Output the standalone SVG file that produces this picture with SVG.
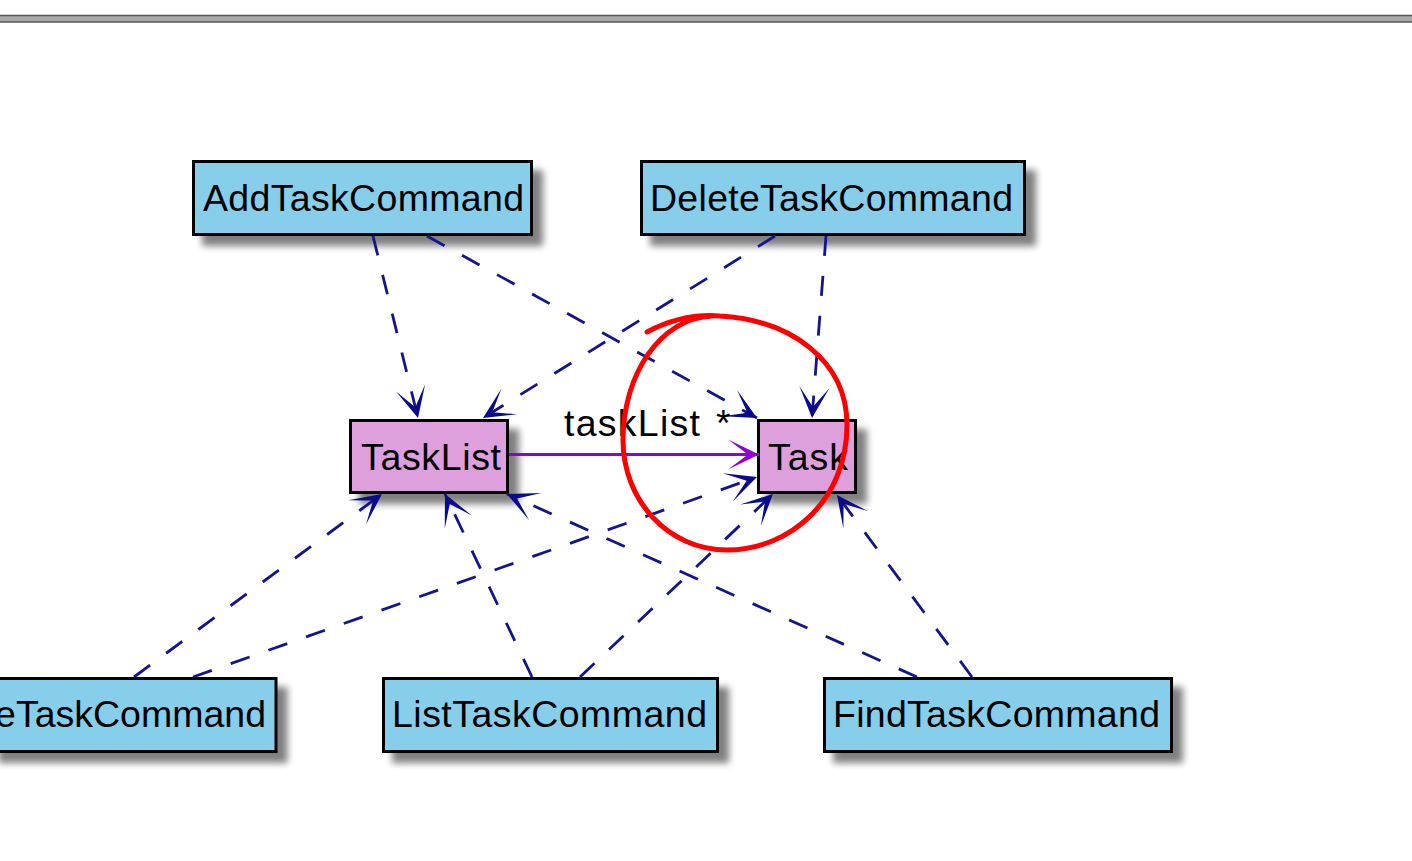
<svg xmlns="http://www.w3.org/2000/svg" width="1412" height="861" viewBox="0 0 1412 861">
<style>
.cmd{fill:#87CEEB;stroke:#000;stroke-width:3}
.ent{fill:#DDA0DD;stroke:#000;stroke-width:3}
.lbl{font-family:"Liberation Sans",Arial,sans-serif;font-size:37.5px;fill:#000}
.dep{fill:none;stroke:#14148c;stroke-width:2.8;stroke-dasharray:20 20}
.assoc{fill:none;stroke:#9400D3;stroke-width:2.8}
</style>
<defs>
<filter id="sh" x="-10%" y="-20%" width="130%" height="170%">
<feGaussianBlur in="SourceAlpha" stdDeviation="3.5"/>
<feOffset dx="10" dy="10" result="b"/>
<feComponentTransfer><feFuncA type="linear" slope="0.5"/></feComponentTransfer>
<feMerge><feMergeNode/><feMergeNode in="SourceGraphic"/></feMerge>
</filter>
<marker id="ah" markerUnits="userSpaceOnUse" viewBox="-34 -17 36 34" refX="0" refY="0" markerWidth="36" markerHeight="34" orient="auto">
<path d="M0,0 L-31,-15 L-11,0 L-31,15 Z" fill="#0a0a8c"/>
</marker>
<marker id="ahp" markerUnits="userSpaceOnUse" viewBox="-34 -17 36 34" refX="0" refY="0" markerWidth="36" markerHeight="34" orient="auto">
<path d="M0,0 L-31,-15 L-11,0 L-31,15 Z" fill="#9400D3"/>
</marker>
</defs>
<rect x="0" y="0" width="1412" height="861" fill="#fff"/>
<rect x="-2" y="15.5" width="1416" height="6.5" fill="#aaa" stroke="#555" stroke-width="1.5"/>

<g id="AddTaskCommand">
<rect class="cmd" x="193.5" y="161.5" width="338" height="73" filter="url(#sh)"/>
<text class="lbl" x="203" y="211" textLength="321" lengthAdjust="spacing">AddTaskCommand</text>
</g>
<g id="DeleteTaskCommand">
<rect class="cmd" x="641.5" y="161.5" width="383" height="73" filter="url(#sh)"/>
<text class="lbl" x="650" y="211" textLength="363" lengthAdjust="spacing">DeleteTaskCommand</text>
</g>
<g id="TaskList">
<rect class="ent" x="350.5" y="420.5" width="157" height="72" filter="url(#sh)"/>
<text class="lbl" x="361" y="470" textLength="140" lengthAdjust="spacing">TaskList</text>
</g>
<g id="Task">
<rect class="ent" x="758.5" y="420.5" width="97" height="72" filter="url(#sh)"/>
<text class="lbl" x="768" y="470" textLength="80" lengthAdjust="spacing">Task</text>
</g>
<g id="eTaskCommand">
<rect class="cmd" x="-10" y="678.5" width="286" height="73" filter="url(#sh)"/>
<text class="lbl" x="266" y="727" text-anchor="end">eTaskCommand</text>
</g>
<g id="ListTaskCommand">
<rect class="cmd" x="383.5" y="678.5" width="334" height="73" filter="url(#sh)"/>
<text class="lbl" x="392" y="727" textLength="315" lengthAdjust="spacing">ListTaskCommand</text>
</g>
<g id="FindTaskCommand">
<rect class="cmd" x="824.5" y="678.5" width="347" height="73" filter="url(#sh)"/>
<text class="lbl" x="833" y="727" textLength="327" lengthAdjust="spacing">FindTaskCommand</text>
</g>

<g id="connectors">
<path class="dep" d="M373,236 L418,418" marker-end="url(#ah)"/>
<path class="dep" d="M427,236 L757,418" marker-end="url(#ah)"/>
<path class="dep" d="M775,236 L483,418" marker-end="url(#ah)"/>
<path class="dep" d="M826,236 L812,418" marker-end="url(#ah)"/>
<path class="dep" d="M134,677 L382,494" marker-end="url(#ah)"/>
<path class="dep" d="M193,677 L757,477" marker-end="url(#ah)"/>
<path class="dep" d="M532,677 L445,494" marker-end="url(#ah)"/>
<path class="dep" d="M580,677 L773,494" marker-end="url(#ah)"/>
<path class="dep" d="M917,677 L507,494" marker-end="url(#ah)"/>
<path class="dep" d="M972,677 L837,495" marker-end="url(#ah)"/>
<path class="assoc" d="M509,454.5 L759,454.5" marker-end="url(#ahp)"/>
<text class="lbl" x="564" y="436" textLength="136" lengthAdjust="spacing">taskList</text>
<text class="lbl" x="716" y="436">*</text>
</g>

<path d="M647,332 C670,320 695,314 720,316 C790,320 847,360 847,425 C847,500 790,550 727,550 C668,550 623,500 623,440 C623,375 660,318 712,316" fill="none" stroke="#ff0000" stroke-width="5" stroke-linecap="round"/>
</svg>
